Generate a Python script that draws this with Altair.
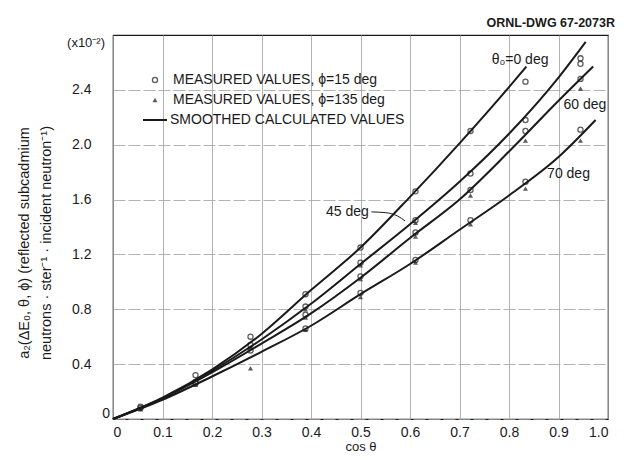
import altair as alt
import pandas as pd

# ---- smoothed calculated curves (cos theta, a2 x 1e2) ----
X_T0 = [0.0, 0.1, 0.2, 0.3, 0.4, 0.5, 0.6, 0.7, 0.8, 0.835]
Y_T0 = [0.0, 0.155, 0.36, 0.62, 0.94, 1.25, 1.62, 2.01, 2.42, 2.57]
X_T45 = [0.0, 0.1, 0.2, 0.3, 0.4, 0.5, 0.6, 0.7, 0.8, 0.9, 0.955]
Y_T45 = [0.0, 0.15, 0.35, 0.58, 0.84, 1.13, 1.42, 1.73, 2.08, 2.49, 2.75]
X_T60 = [0.0, 0.1, 0.2, 0.3, 0.4, 0.5, 0.6, 0.7, 0.8, 0.9, 0.97]
Y_T60 = [0.0, 0.15, 0.34, 0.55, 0.77, 1.03, 1.32, 1.6, 1.95, 2.32, 2.57]
X_T70 = [0.0, 0.1, 0.2, 0.3, 0.4, 0.5, 0.6, 0.7, 0.8, 0.9, 0.975]
Y_T70 = [0.0, 0.14, 0.31, 0.49, 0.68, 0.91, 1.13, 1.38, 1.63, 1.91, 2.18]

# ---- measured values ----
CIRC_X = [0.0556, 0.0556,
          0.1667, 0.1667, 0.1667,
          0.2778, 0.2778, 0.2778,
          0.3889, 0.3889, 0.3889, 0.3889,
          0.5, 0.5, 0.5, 0.5,
          0.6111, 0.6111, 0.6111, 0.6111,
          0.7222, 0.7222, 0.7222, 0.7222,
          0.8333, 0.8333, 0.8333, 0.8333,
          0.9444, 0.9444, 0.9444, 0.9444]
CIRC_Y = [0.09, 0.08,
          0.32, 0.27, 0.26,
          0.60, 0.54, 0.50,
          0.91, 0.82, 0.76, 0.66,
          1.25, 1.14, 1.04, 0.92,
          1.66, 1.45, 1.36, 1.16,
          2.10, 1.79, 1.67, 1.45,
          2.46, 2.18, 2.10, 1.73,
          2.63, 2.59, 2.48, 2.11]
TRI_X = [0.0556, 0.1667, 0.2778, 0.2778,
         0.3889, 0.3889, 0.3889,
         0.5, 0.5, 0.5,
         0.6111, 0.6111, 0.6111,
         0.7222, 0.7222,
         0.8333, 0.8333,
         0.9444, 0.9444]
TRI_Y = [0.07, 0.25, 0.52, 0.37,
         0.80, 0.74, 0.65,
         1.12, 1.02, 0.89,
         1.43, 1.33, 1.14,
         1.63, 1.42,
         2.03, 1.68,
         2.41, 2.03]

X_TICKS = [0.0, 0.1, 0.2, 0.3, 0.4, 0.5, 0.6, 0.7, 0.8, 0.9, 1.0]
Y_TICKS = [0.0, 0.4, 0.8, 1.2, 1.6, 2.0, 2.4]

FONT = "Liberation Sans"
INK = "#1a1a1a"

curves = pd.concat([
    pd.DataFrame({"x": X_T0, "y": Y_T0, "c": "0"}),
    pd.DataFrame({"x": X_T45, "y": Y_T45, "c": "45"}),
    pd.DataFrame({"x": X_T60, "y": Y_T60, "c": "60"}),
    pd.DataFrame({"x": X_T70, "y": Y_T70, "c": "70"}),
])
circ = pd.DataFrame({"x": CIRC_X, "y": CIRC_Y})
tri = pd.DataFrame({"x": TRI_X, "y": TRI_Y})

xs = alt.Scale(domain=[0, 1.0], nice=False, zero=False)
ys = alt.Scale(domain=[0, 2.8], nice=False, zero=False)

xax = alt.Axis(values=X_TICKS, ticks=False, grid=True, gridColor="#a0a0a0",
               gridWidth=0.8, domain=False,
               labelExpr="datum.value == 0 ? '0' : format(datum.value, '.1f')",
               labelFont=FONT, labelFontSize=14, labelColor=INK, labelPadding=6,
               title="cos θ", titleFont=FONT, titleFontSize=13,
               titleFontWeight="normal", titleColor=INK, titlePadding=1)
yax = alt.Axis(values=Y_TICKS, ticks=False, grid=True, gridColor="#a0a0a0",
               gridWidth=0.8, gridDash=[12, 3], domain=False,
               labelExpr="datum.value == 0 ? '' : format(datum.value, '.1f')",
               labelFont=FONT, labelFontSize=14, labelColor=INK, labelPadding=22,
               title=None)

base = alt.Chart(curves)

lines = base.mark_line(color=INK, strokeWidth=2, interpolate="monotone").encode(
    x=alt.X("x:Q", scale=xs, axis=xax),
    y=alt.Y("y:Q", scale=ys, axis=yax),
    detail="c:N",
)

circles = alt.Chart(circ).mark_point(shape="circle", filled=False, color=INK,
                                     size=26, strokeWidth=1.3).encode(
    x=alt.X("x:Q", scale=xs), y=alt.Y("y:Q", scale=ys))

tris = alt.Chart(tri).mark_point(shape="triangle-up", filled=True, color=INK,
                                 size=26).encode(
    x=alt.X("x:Q", scale=xs), y=alt.Y("y:Q", scale=ys))

# curve labels
lab = pd.DataFrame({
    "x": [0.765, 0.91, 0.877, 0.517],
    "y": [2.62, 2.29, 1.79, 1.51],
    "t": ["θ₀=0 deg", "60 deg", "70 deg", "45 deg"],
    "a": ["left", "left", "left", "right"],
})
labels_l = alt.Chart(lab[lab.a == "left"]).mark_text(
    align="left", baseline="middle", font=FONT, fontSize=14, color=INK).encode(
    x=alt.X("x:Q", scale=xs), y=alt.Y("y:Q", scale=ys), text="t:N")
labels_r = alt.Chart(lab[lab.a == "right"]).mark_text(
    align="right", baseline="middle", font=FONT, fontSize=14, color=INK).encode(
    x=alt.X("x:Q", scale=xs), y=alt.Y("y:Q", scale=ys), text="t:N")

leader = alt.Chart(pd.DataFrame({
    "x": [0.522, 0.55, 0.575, 0.59],
    "y": [1.51, 1.505, 1.48, 1.445]})).mark_line(
    color=INK, strokeWidth=1, interpolate="monotone").encode(
    x=alt.X("x:Q", scale=xs), y=alt.Y("y:Q", scale=ys))

one = pd.DataFrame({"a": [0]})

def txt(s, x, y, align="left", size=14, weight="normal", angle=0):
    return alt.Chart(one).mark_text(align=align, baseline="middle", font=FONT,
                                    fontSize=size, fontWeight=weight, color=INK,
                                    angle=angle).encode(
        x=alt.value(x), y=alt.value(y), text=alt.value(s))

# legend
leg_c = alt.Chart(one).mark_point(shape="circle", filled=False, color=INK, size=26,
                                  strokeWidth=1.3).encode(x=alt.value(42), y=alt.value(45))
leg_t = alt.Chart(one).mark_point(shape="triangle-up", filled=True, color=INK,
                                  size=26).encode(x=alt.value(42), y=alt.value(65))
leg_l = alt.Chart(one).mark_rule(color=INK, strokeWidth=2).encode(
    x=alt.value(30), x2=alt.value(54), y=alt.value(85))

texts = [
    txt("MEASURED VALUES, ϕ=15 deg", 60, 45),
    txt("MEASURED VALUES, ϕ=135 deg", 60, 65),
    txt("SMOOTHED CALCULATED VALUES", 57, 85),
    txt("ORNL-DWG 67-2073R", 502, -12, align="right", size=12.5, weight="bold"),
    txt("(x10⁻²)", -8, 8, align="right", size=13),
    txt("0", -3, 379, align="right", size=14),
    txt("a₂(ΔE₀, θ, ϕ)  (reflected subcadmium", -88, 208, align="center", size=14.5, angle=270),
    txt("neutrons · ster⁻¹ · incident neutron⁻¹)", -66, 208, align="center", size=14.5, angle=270),
]

chart = alt.layer(lines, leader, circles, tris, labels_l, labels_r,
                  leg_c, leg_t, leg_l, *texts).properties(
    width=495, height=384,
    padding={"left": 113, "top": 35, "right": 27, "bottom": 41},
    autosize="none",
    background="white",
).configure_view(stroke=INK, strokeWidth=1.2)

chart.save("out.html", embed_options={"renderer": "svg", "actions": False})
